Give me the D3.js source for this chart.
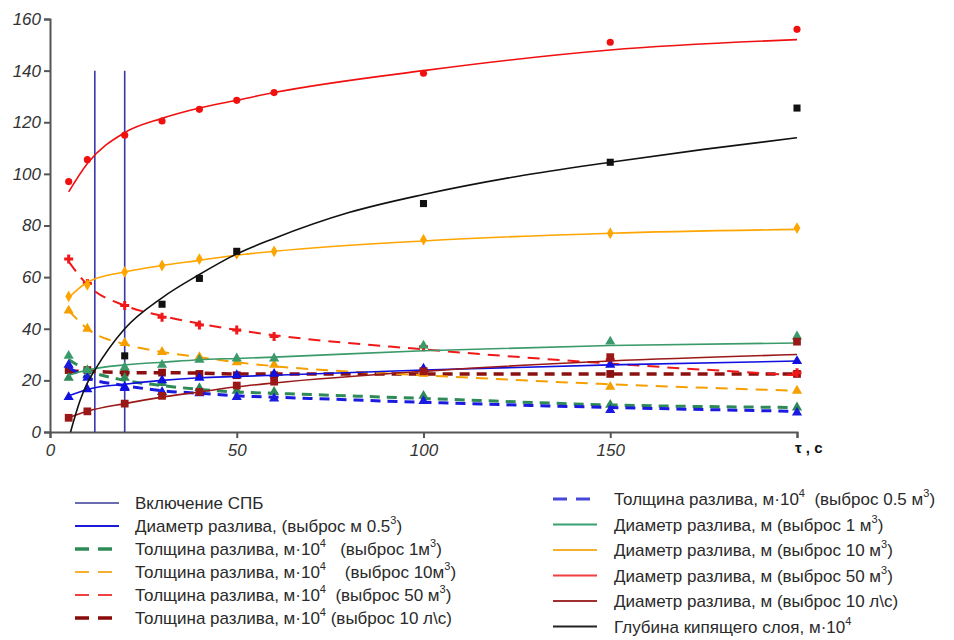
<!DOCTYPE html>
<html>
<head>
<meta charset="utf-8">
<script src="https://cdn.jsdelivr.net/npm/d3@7"></script>
<style>
  body { margin: 0; background: #fff; }
  svg { font-family: "Liberation Sans", Arial, sans-serif; }
</style>
</head>
<body>
<svg id="chart"></svg>
<script>
// measurement times, s
var times = [5, 10, 20, 30, 40, 50, 60, 100, 150, 200];
var blackTimes = [20, 30, 40, 50, 100, 150, 200];
// times used for the fitted curves
var fitTimes = [5, 10, 20, 30, 40, 50, 60, 100, 150, 200];
var blackFitTimes = [5.5, 8, 10, 12, 20, 30, 40, 50, 60, 80, 100, 125, 150, 175, 200];

// measured points
var diam50 = [97, 105.5, 115, 120.5, 125, 128.5, 131.5, 139, 151, 156];
var diam10 = [52.5, 57, 62, 64.5, 67, 69, 70, 74.5, 77, 79];
var diam1 = [29.5, 24, 25, 26, 28, 28.5, 28.5, 33.5, 35, 37];
var diam05 = [13.5, 16.5, 17.5, 20, 21, 22, 22.5, 24.5, 26, 27.5];
var diam10ls = [5.5, 8, 11, 14, 15.5, 18, 19.5, 23.5, 29, 35];
var thick50 = [67, 57.5, 49, 44.5, 41.5, 39.5, 37, 33, 28, 23];
var thick10 = [47, 40, 34.5, 31, 29, 27, 26, 22.5, 17.5, 16];
var thick1 = [21, 22, 21, 19, 17, 16, 15.5, 14, 10.5, 9.5];
var thick05 = [26, 21, 17, 15.5, 15, 13.5, 13, 12, 8.5, 7.5];
var thick10ls = [24, 24, 23, 23, 22.5, 22, 22, 23.5, 22.5, 22.5];
var depth = [29.5, 49.5, 59.5, 70, 88.5, 104.5, 125.5];

// fitted curves
var diam50Fit = [93, 104, 116, 121.5, 125.5, 128.5, 131.5, 140, 148, 152];
var diam10Fit = [52, 58, 62, 64.5, 66.5, 68.5, 70, 74, 77, 78.5];
var diam1Fit = [22, 24, 26, 27, 28, 28.5, 29, 31.5, 33.5, 34.5];
var diam05Fit = [14, 16.5, 18.5, 20, 21, 21.5, 22, 24, 26, 27.5];
var diam10lsFit = [5.5, 8, 11, 13.5, 15.5, 17.5, 19, 23.5, 27.5, 30];
var thick50Fit = [66, 57, 49, 45, 42, 39.5, 37.5, 32, 26.5, 22];
var thick10Fit = [47, 40, 34, 31, 29, 27, 25.5, 22, 18.5, 16];
var thick1Fit = [28, 24, 20, 18, 16.5, 15.5, 15, 13, 10.5, 9.5];
var thick05Fit = [25, 21, 18, 16, 15, 14, 13.5, 11.5, 9.5, 8];
var thick10lsFit = [23.5, 23.5, 23, 23, 22.8, 22.5, 22.5, 22.5, 22.5, 22.5];
var depthFit = [0, 12, 19, 24, 40, 52, 61, 69, 75, 85, 92, 99, 104.5, 109.5, 114];

// СПБ switch-on moments
var spbTimes = [12, 20];
var spbTop = 140;

var xTicks = [0, 50, 100, 150, 200];
var yTicks = [0, 20, 40, 60, 80, 100, 120, 140, 160];

var legendLeft = [
  "Включение СПБ",
  "Диаметр разлива, (выброс м 0.5^3)",
  "Толщина разлива, м·10^4   (выброс 1м^3)",
  "Толщина разлива, м·10^4    (выброс 10м^3)",
  "Толщина разлива, м·10^4  (выброс 50 м^3)",
  "Толщина разлива, м·10^4 (выброс 10 л\\с)"
];
var legendRight = [
  "Толщина разлива, м·10^4  (выброс 0.5 м^3)",
  "Диаметр разлива, м (выброс 1 м^3)",
  "Диаметр разлива, м (выброс 10 м^3)",
  "Диаметр разлива, м (выброс 50 м^3)",
  "Диаметр разлива, м (выброс 10 л\\с)",
  "Глубина кипящего слоя, м·10^4"
];

var width = 954, height = 640;
var svg = d3.select("#chart").attr("width", width).attr("height", height);

var x = d3.scaleLinear().domain([0, 200]).range([50, 797]);
var y = d3.scaleLinear().domain([0, 160]).range([432, 19]);

// series styles
var series = [
  {t: times, pts: thick10ls, fit: thick10lsFit, color: "#8b1010", w: 3.5, dash: "10,7", sym: d3.symbolSquare, size: 60},
  {t: times, pts: thick1, fit: thick1Fit, color: "#2e8b57", w: 3, dash: "10,7", sym: d3.symbolTriangle, size: 45},
  {t: times, pts: thick05, fit: thick05Fit, color: "#1a1ae0", w: 3, dash: "10,7", sym: d3.symbolTriangle, size: 45},
  {t: times, pts: thick10, fit: thick10Fit, color: "#f5a000", w: 2, dash: "12,8", sym: d3.symbolTriangle, size: 45},
  {t: times, pts: thick50, fit: thick50Fit, color: "#f01818", w: 2, dash: "12,8", sym: d3.symbolCross, size: 45},
  {t: times, pts: diam1, fit: diam1Fit, color: "#3a9a6a", w: 1.6, dash: null, sym: d3.symbolTriangle, size: 45},
  {t: times, pts: diam05, fit: diam05Fit, color: "#1010e0", w: 1.6, dash: null, sym: d3.symbolTriangle, size: 45},
  {t: times, pts: diam10ls, fit: diam10lsFit, color: "#9a1818", w: 1.6, dash: null, sym: d3.symbolSquare, size: 60},
  {t: times, pts: diam10, fit: diam10Fit, color: "#ffa500", w: 1.6, dash: null, sym: d3.symbolDiamond, size: 40},
  {t: times, pts: diam50, fit: diam50Fit, color: "#f01010", w: 1.6, dash: null, sym: d3.symbolCircle, size: 40},
  {t: blackTimes, pts: depth, fit: depthFit, fitT: blackFitTimes, color: "#111", w: 1.6, dash: null, sym: d3.symbolSquare, size: 50}
];

// axes
var yAxis = svg.append("g")
  .attr("transform", "translate(" + x(0) + ",0)")
  .call(d3.axisLeft(y).tickValues(yTicks).tickSize(6).tickPadding(3));
var xAxis = svg.append("g")
  .attr("transform", "translate(0," + y(0) + ")")
  .call(d3.axisBottom(x).tickValues(xTicks).tickSize(6).tickPadding(6)
    .tickFormat(function(d) { return d === 200 ? "" : d; }));

[xAxis, yAxis].forEach(function(a) {
  a.select(".domain").attr("stroke", "#555").attr("stroke-width", 2);
  a.selectAll(".tick line").attr("stroke", "#555").attr("stroke-width", 2);
  a.selectAll(".tick text")
    .attr("fill", "#333")
    .style("font-size", "17px")
    .style("font-style", "italic");
});

svg.append("text")
  .attr("x", x(200) - 2)
  .attr("y", y(0) + 21)
  .attr("fill", "#111")
  .style("font-size", "15px")
  .style("font-weight", "bold")
  .style("white-space", "pre")
  .text("τ , с");

// СПБ switch-on lines
svg.selectAll(".spb")
  .data(spbTimes)
  .enter()
  .append("line")
  .attr("x1", function(d) { return x(d); })
  .attr("x2", function(d) { return x(d); })
  .attr("y1", y(0))
  .attr("y2", y(spbTop))
  .attr("stroke", "#3838a8")
  .attr("stroke-width", 1.6);

var line = d3.line()
  .x(function(d) { return x(d[0]); })
  .y(function(d) { return y(d[1]); })
  .curve(d3.curveMonotoneX);

series.forEach(function(s) {
  var ft = s.fitT || fitTimes;
  svg.append("path")
    .datum(ft.map(function(t, i) { return [t, s.fit[i]]; }))
    .attr("d", line)
    .attr("fill", "none")
    .attr("stroke", s.color)
    .attr("stroke-width", s.w)
    .attr("stroke-dasharray", s.dash);

  svg.selectAll(null)
    .data(s.t.map(function(t, i) { return [t, s.pts[i]]; }))
    .enter()
    .append("path")
    .attr("transform", function(d) { return "translate(" + x(d[0]) + "," + y(d[1]) + ")"; })
    .attr("d", d3.symbol().type(s.sym).size(s.size))
    .attr("fill", s.color);
});

// legend
function addLabel(g, str) {
  var t = g.append("text")
    .attr("x", 0)
    .attr("y", 6)
    .attr("fill", "#2a2a2a")
    .style("font-size", "17px")
    .style("white-space", "pre");
  var shift = 0;
  str.split(/(\^\d)/).forEach(function(part) {
    if (!part.length) return;
    if (part.charAt(0) === "^") {
      t.append("tspan").attr("dy", -8).style("font-size", "11px").text(part.slice(1));
      shift = 8;
    } else {
      t.append("tspan").attr("dy", shift).text(part);
      shift = 0;
    }
  });
}

var leftStyles = [
  {color: "#3a3a98", w: 1.6, dash: null},
  {color: "#1a1ad8", w: 2, dash: null},
  {color: "#2e8b57", w: 3.5, dash: "14,9"},
  {color: "#f5b030", w: 2, dash: "14,9"},
  {color: "#f04040", w: 2, dash: "14,9"},
  {color: "#8b0a0a", w: 3.5, dash: "14,9"}
];
var rightStyles = [
  {color: "#4848d8", w: 3, dash: "14,9"},
  {color: "#3aa070", w: 2, dash: null},
  {color: "#f5b030", w: 2, dash: null},
  {color: "#f04040", w: 2, dash: null},
  {color: "#a03030", w: 2, dash: null},
  {color: "#222", w: 2, dash: null}
];

function drawLegend(labels, styles, lx, tx, y0, step) {
  labels.forEach(function(lab, i) {
    var g = svg.append("g").attr("transform", "translate(0," + (y0 + i * step) + ")");
    g.append("line")
      .attr("x1", lx).attr("x2", lx + 44)
      .attr("stroke", styles[i].color)
      .attr("stroke-width", styles[i].w)
      .attr("stroke-dasharray", styles[i].dash);
    var tg = g.append("g").attr("transform", "translate(" + tx + ",0)");
    addLabel(tg, lab);
  });
}

drawLegend(legendLeft, leftStyles, 75, 135, 503, 23);
drawLegend(legendRight, rightStyles, 553, 614, 499, 25.5);
</script>
</body>
</html>
